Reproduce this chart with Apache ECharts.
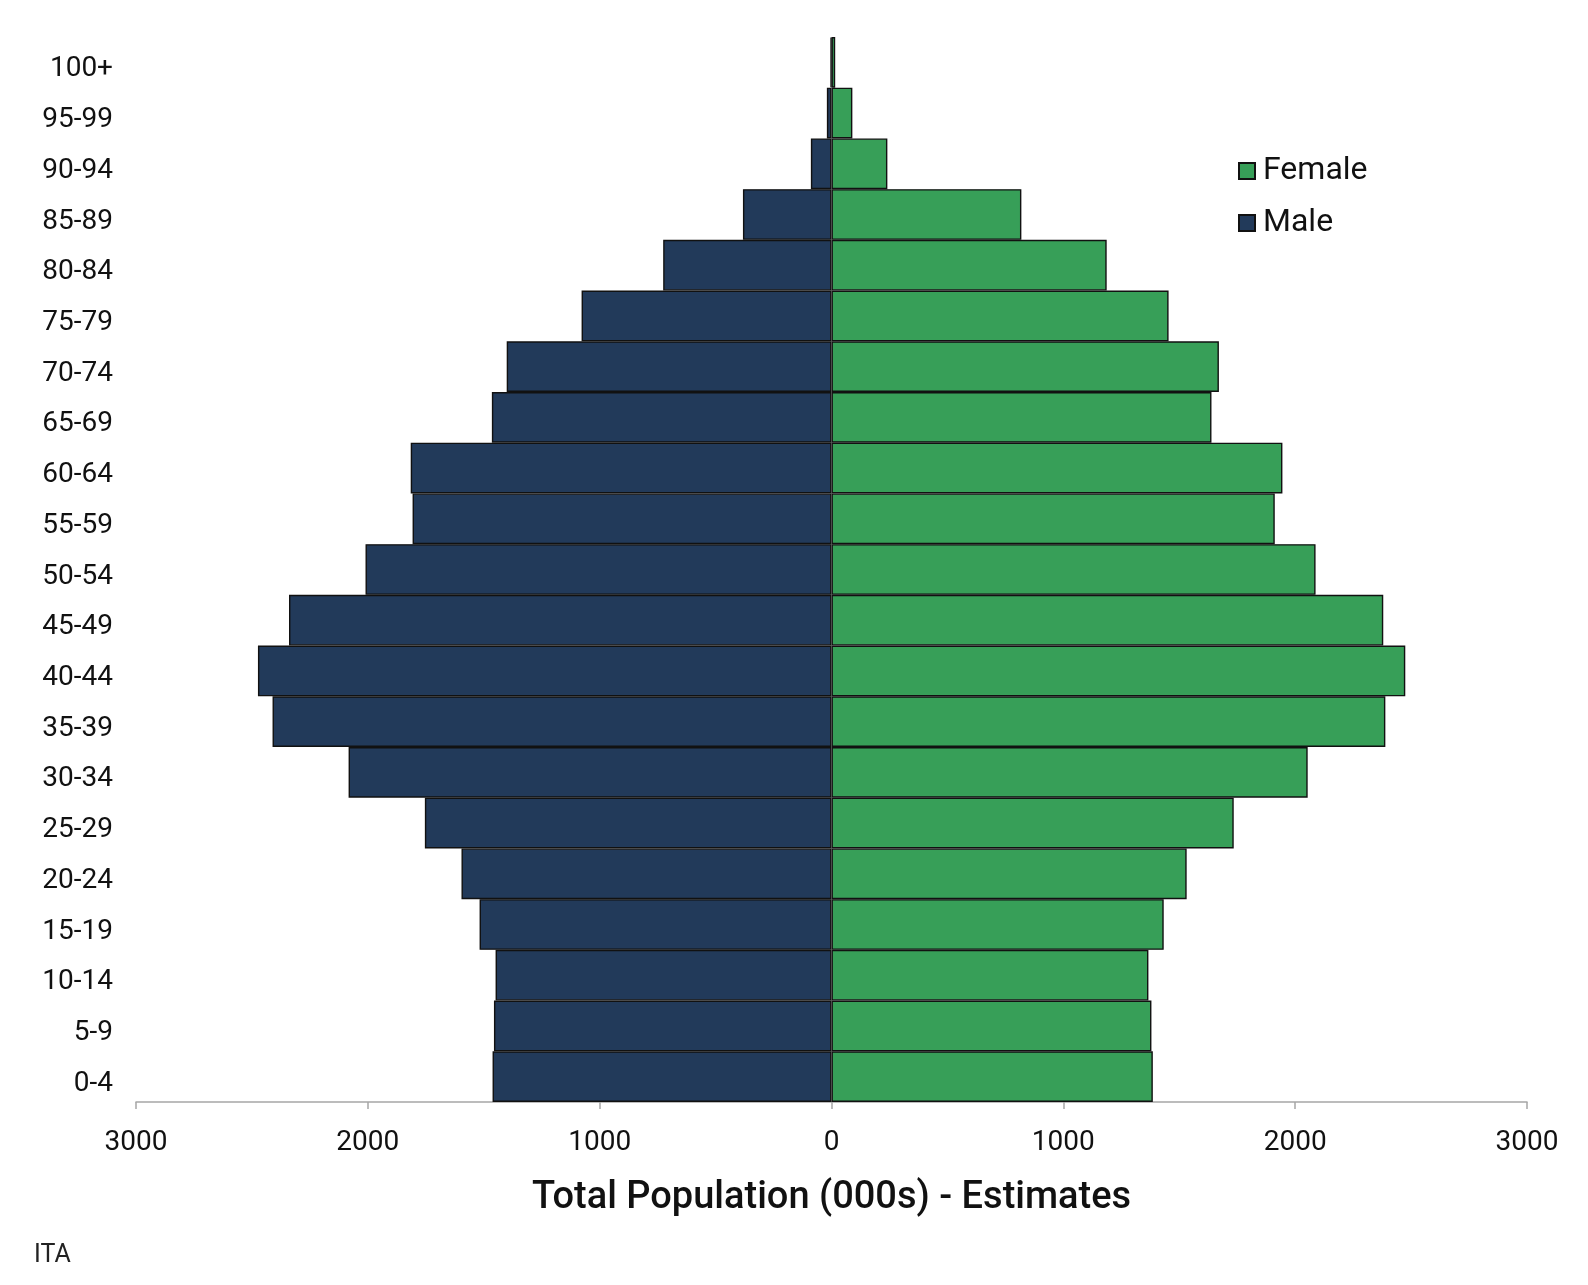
<!DOCTYPE html>
<html>
<head>
<meta charset="utf-8">
<script src="https://cdn.jsdelivr.net/npm/echarts@6/dist/echarts.min.js"></script>
<style>
  html, body { margin: 0; padding: 0; background: #fff; }
  #chart { width: 1588px; height: 1285px; }
</style>
</head>
<body>
<div id="chart"></div>
<script>
// age groups, bottom to top
const ageGroups = ['0-4', '5-9', '10-14', '15-19', '20-24', '25-29', '30-34', '35-39', '40-44',
  '45-49', '50-54', '55-59', '60-64', '65-69', '70-74', '75-79', '80-84', '85-89', '90-94',
  '95-99', '100+'];
// population in thousands
const male = [1462, 1456, 1449, 1518, 1596, 1754, 2083, 2411, 2474,
  2340, 2010, 1807, 1815, 1465, 1401, 1078, 726, 382, 89,
  20, 4];
const female = [1386, 1380, 1367, 1433, 1532, 1735, 2054, 2389, 2475,
  2380, 2088, 1912, 1945, 1639, 1671, 1454, 1187, 819, 241,
  90, 16];
const xTicks = { min: -3000, max: 3000, step: 1000 };

const FONT = 'Roboto, "Liberation Sans", sans-serif';

const chart = echarts.init(document.getElementById('chart'));

chart.setOption({
  animation: false,
  textStyle: { fontFamily: FONT },
  title: {
    text: 'ITA',
    left: 29,
    top: 1238,
    textStyle: { fontFamily: FONT, fontSize: 25, fontWeight: 'normal', color: '#222' }
  },
  legend: {
    data: ['Female', 'Male'],
    orient: 'vertical',
    left: 1233,
    top: 150,
    itemWidth: 16,
    itemHeight: 16,
    itemGap: 20,
    icon: 'rect',
    textStyle: { fontFamily: FONT, fontSize: 32, color: '#111', padding: [0, 0, 0, 3] }
  },
  grid: { left: 136, right: 61, top: 37, bottom: 183 },
  xAxis: {
    type: 'value',
    min: xTicks.min,
    max: xTicks.max,
    interval: xTicks.step,
    name: 'Total Population (000s) - Estimates',
    nameLocation: 'middle',
    nameGap: 77,
    nameTextStyle: { fontFamily: FONT, fontSize: 38, fontWeight: 500, color: '#111' },
    axisLine: { show: true, lineStyle: { color: '#a6a6a6', width: 1.5 } },
    axisTick: { show: true, length: 7, lineStyle: { color: '#a6a6a6', width: 1.5 } },
    axisLabel: {
      fontSize: 28,
      color: '#111',
      margin: 27,
      formatter: v => Math.abs(v)
    },
    splitLine: { show: false }
  },
  yAxis: {
    type: 'category',
    data: ageGroups,
    axisLine: { show: false },
    axisTick: { show: false },
    // labels sit a little below the band centre in the original
    axisLabel: { fontSize: 28, color: '#111', margin: 23, verticalAlign: 'top', lineHeight: 14 }
  },
  series: [
    {
      name: 'Male',
      type: 'bar',
      data: male.map(v => -v),
      barGap: '-100%',
      barCategoryGap: 0,
      itemStyle: { color: '#223a5a', borderColor: '#111', borderWidth: 1.4 }
    },
    {
      name: 'Female',
      type: 'bar',
      data: female,
      barGap: '-100%',
      barCategoryGap: 0,
      itemStyle: { color: '#379f58', borderColor: '#111', borderWidth: 1.4 }
    }
  ]
});
</script>
</body>
</html>
